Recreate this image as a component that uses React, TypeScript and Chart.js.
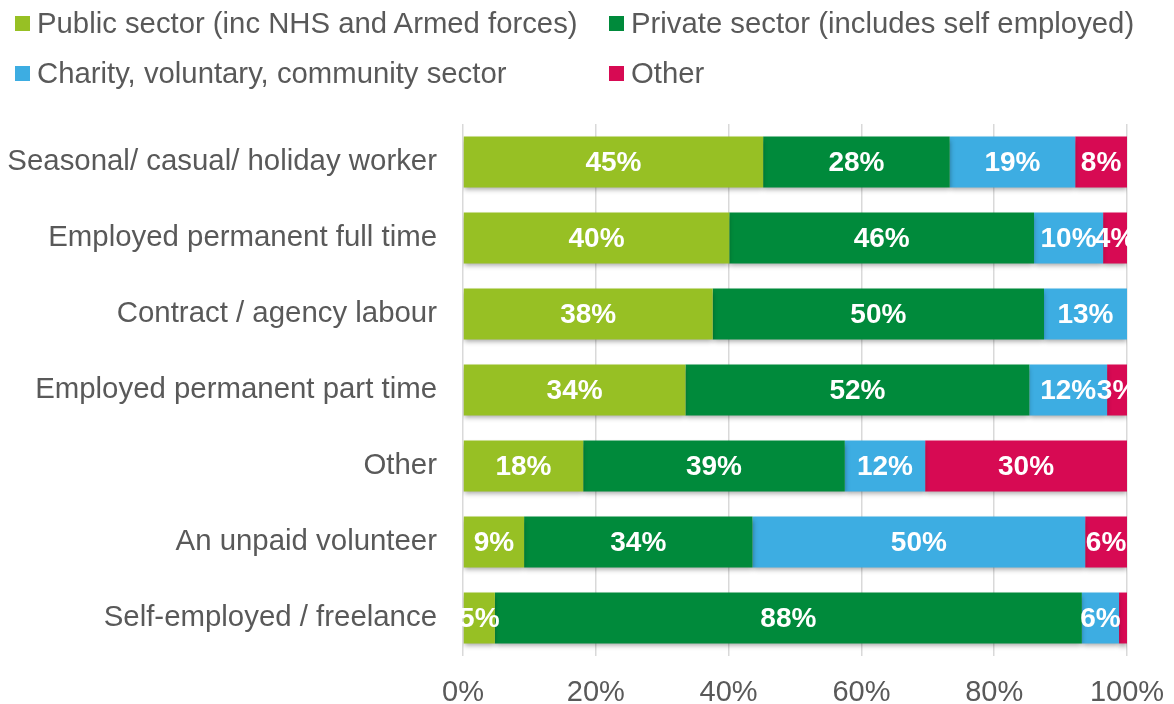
import React, { useEffect, useRef } from "react";
import { Chart, registerables } from "chart.js";

Chart.register(...registerables);

const categories = [
  "Seasonal/ casual/ holiday worker",
  "Employed permanent full time",
  "Contract / agency labour",
  "Employed permanent part time",
  "Other",
  "An unpaid volunteer",
  "Self-employed / freelance",
];
const publicSector = [45.2, 40.1, 37.6, 33.5, 18.1, 9.2, 4.8];
const privateSector = [28.1, 45.9, 49.9, 51.8, 39.4, 34.4, 88.4];
const charitySector = [18.9, 10.4, 12.5, 11.7, 12.1, 50.1, 5.6];
const otherSector = [7.8, 3.6, 0, 3.0, 30.4, 6.3, 1.2];
const seriesNames = [
  "Public sector (inc NHS and Armed forces)",
  "Private sector (includes self employed)",
  "Charity, voluntary, community sector",
  "Other",
];
const colors = ["#97C024", "#008A3B", "#3DADE2", "#D70A53"];
const xTicks = [0, 20, 40, 60, 80, 100];

const FONT = "'Liberation Sans', Arial, sans-serif";

export default function App() {
  const ref = useRef<HTMLCanvasElement>(null);
  useEffect(() => {
    if (!ref.current) return;
    const shadowPlugin = {
      id: "shadow",
      beforeDatasetsDraw(chart: any) {
        const ctx = chart.ctx;
        ctx.save();
        ctx.shadowColor = "rgba(0,0,0,0.35)";
        ctx.shadowOffsetY = 3;
        ctx.shadowOffsetX = 0;
        ctx.shadowBlur = 5;
      },
      afterDatasetsDraw(chart: any) {
        chart.ctx.restore();
        const ctx = chart.ctx;
        ctx.save();
        ctx.fillStyle = "#FFFFFF";
        ctx.textAlign = "center";
        ctx.textBaseline = "middle";
        ctx.font = "bold 28px 'Liberation Sans', Arial, sans-serif";
        chart.data.datasets.forEach((ds: any, di: number) => {
          const meta = chart.getDatasetMeta(di);
          meta.data.forEach((bar: any, i: number) => {
            const v = ds.data[i];
            if (v < 2) return;
            const { x, base, y } = bar.getProps(["x", "base", "y"], true);
            ctx.fillText(Math.round(v) + "%", (x + base) / 2, y + 1);
          });
        });
        ctx.restore();
      },
    };
    const chart = new Chart(ref.current, {
      type: "bar",
      data: {
        labels: categories,
        datasets: [publicSector, privateSector, charitySector, otherSector].map((d, i) => ({
          label: seriesNames[i],
          data: d,
          backgroundColor: colors[i],
          borderWidth: 0,
          categoryPercentage: 0.67,
          barPercentage: 1,
        })),
      },
      options: {
        indexAxis: "y",
        animation: false,
        responsive: false,
        maintainAspectRatio: false,
        layout: { padding: { top: 124, right: 47, bottom: 0, left: 0 } },
        plugins: { legend: { display: false }, tooltip: { enabled: false } },
        scales: {
          x: {
            stacked: true,
            min: 0,
            max: 100,
            afterBuildTicks(scale: any) {
              scale.ticks = xTicks.map((v) => ({ value: v }));
            },
            afterFit(scale: any) {
              scale.height = 48;
              scale.paddingLeft = 0;
              scale.paddingRight = 0;
            },
            grid: { color: "#D9D9D9", lineWidth: 1.5, drawTicks: false },
            border: { display: false },
            ticks: {
              padding: 20,
              color: "#595959",
              font: { size: 29, family: FONT },
              callback: (v: any) => v + "%",
            },
          },
          y: {
            stacked: true,
            afterFit(scale: any) {
              scale.width = 463;
              scale.paddingTop = 0;
              scale.paddingBottom = 0;
            },
            grid: { display: false, drawTicks: false },
            border: { display: false },
            ticks: {
              padding: 26,
              color: "#595959",
              font: { size: 29.4, family: FONT },
            },
          },
        },
      },
      plugins: [shadowPlugin],
    } as any);
    return () => chart.destroy();
  }, []);

  const legendItem = (i: number, left: number, top: number) => (
    <div
      key={i}
      style={{
        position: "absolute",
        left,
        top,
        display: "flex",
        alignItems: "center",
        fontFamily: FONT,
        fontSize: 29.3,
        color: "#595959",
        whiteSpace: "nowrap",
        lineHeight: "30px",
      }}
    >
      <span style={{ display: "inline-block", width: 15, height: 15, background: colors[i], marginRight: 7 }} />
      {seriesNames[i]}
    </div>
  );

  return (
    <div style={{ position: "fixed", left: 0, top: 0, width: 1174, height: 704, background: "#fff" }}>
      <canvas ref={ref} width={1174} height={704} style={{ position: "absolute", left: 0, top: 0 }} />
      {legendItem(0, 15, 8)}
      {legendItem(1, 609, 8)}
      {legendItem(2, 15, 58)}
      {legendItem(3, 609, 58)}
    </div>
  );
}
